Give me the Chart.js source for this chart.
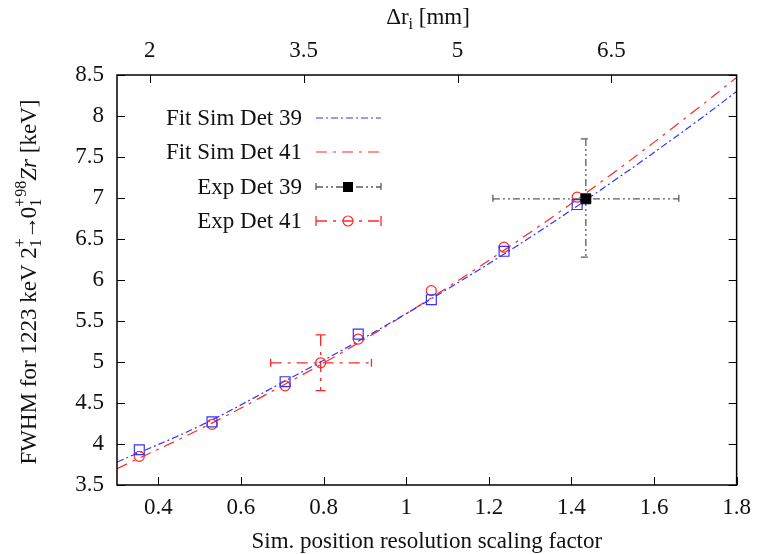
<!DOCTYPE html>
<html>
<head>
<meta charset="utf-8">
<script src="https://cdn.jsdelivr.net/npm/chart.js@4.4.0/dist/chart.umd.min.js"></script>
<style>body{margin:0;background:#fff}</style>
</head>
<body>
<canvas id="fwhm-chart" width="760" height="554"></canvas>
<script>
// simulated points (scaling factor vs FWHM)
const scaleFactors = [0.354, 0.530, 0.707, 0.884, 1.061, 1.237, 1.414];
const simDet39 = [3.93, 4.27, 4.76, 5.34, 5.76, 6.35, 6.92];
const simDet41 = [3.85, 4.24, 4.71, 5.28, 5.87, 6.40, 7.01];

// fit curves
const fitX = [0.3, 0.5, 0.7, 0.9, 1.1, 1.3, 1.5, 1.7, 1.8];
const fitDet39 = [3.78, 4.22, 4.75, 5.30, 5.89, 6.52, 7.20, 7.92, 8.30];
const fitDet41 = [3.70, 4.18, 4.71, 5.28, 5.91, 6.58, 7.30, 8.07, 8.47];

// experimental points: [Det 39, Det 41]
const expX = [1.435, 0.793];
const expY = [6.99, 4.99];
const expXLo = [1.21, 0.672];
const expXHi = [1.66, 0.916];
const expYLo = [6.28, 4.65];
const expYHi = [7.72, 5.33];

const xTicks = [0.4, 0.6, 0.8, 1, 1.2, 1.4, 1.6, 1.8];
const yTicks = [3.5, 4, 4.5, 5, 5.5, 6, 6.5, 7, 7.5, 8, 8.5];
const drTicks = [2, 3.5, 5, 6.5];

const FONT = '"Liberation Serif", "Times New Roman", serif';
const FS = 23;
const BLUE = 'rgb(50,50,255)';
const RED = 'rgb(255,40,40)';
const GREY = 'rgb(90,90,90)';
const DASH_BLUE = [7, 3, 2, 3];
const DASH_RED = [11, 6, 3, 6];
const DASH_GREY = [7, 3, 2, 3, 2, 3];

const pts = (xs, ys) => xs.map((x, i) => ({ x: x, y: ys[i] }));

function drawMarker(ctx, kind, x, y) {
  ctx.save();
  ctx.setLineDash([]);
  ctx.lineWidth = 1.2;
  if (kind === 'sq39') {
    ctx.fillStyle = '#000';
    ctx.fillRect(x - 5, y - 5, 10, 10);
  } else if (kind === 'circ41') {
    ctx.strokeStyle = RED;
    ctx.beginPath();
    ctx.arc(x, y, 5, 0, Math.PI * 2);
    ctx.stroke();
  }
  ctx.restore();
}

function errorBar(ctx, x1, y1, x2, y2, color, dash, cap, vertical) {
  ctx.save();
  ctx.strokeStyle = color;
  ctx.lineWidth = 1.3;
  ctx.setLineDash(dash);
  ctx.beginPath();
  ctx.moveTo(x1, y1);
  ctx.lineTo(x2, y2);
  ctx.stroke();
  ctx.beginPath();
  if (vertical) {
    ctx.moveTo(x1 - cap, y1); ctx.lineTo(x1 + cap, y1);
    ctx.moveTo(x2 - cap, y2); ctx.lineTo(x2 + cap, y2);
  } else {
    ctx.moveTo(x1, y1 - cap); ctx.lineTo(x1, y1 + cap);
    ctx.moveTo(x2, y2 - cap); ctx.lineTo(x2, y2 + cap);
  }
  ctx.stroke();
  ctx.restore();
}

const errorBarPlugin = {
  id: 'errorBars',
  beforeDatasetsDraw(chart) {
    const ctx = chart.ctx;
    const xs = chart.scales.x, ys = chart.scales.y;
    const styles = [[GREY, DASH_GREY], [RED, DASH_RED]];
    expX.forEach((xv, i) => {
      const px = xs.getPixelForValue(xv), py = ys.getPixelForValue(expY[i]);
      const [c, d] = styles[i];
      errorBar(ctx, xs.getPixelForValue(expXLo[i]), py, xs.getPixelForValue(expXHi[i]), py, c, d, 4, false);
      errorBar(ctx, px, ys.getPixelForValue(expYHi[i]), px, ys.getPixelForValue(expYLo[i]), c, d, 5, true);
    });
  }
};

function drawYTitle(ctx, cx, cy) {
  const big = FS + 'px ' + FONT;
  const small = '16px ' + FONT;
  const parts = [
    { t: 'FWHM for 1223 keV 2', f: big },
    { stack: ['+', '1'] },
    { t: '\u2192', f: big, pre: -2, post: -2 },
    { t: '0', f: big },
    { stack: ['+', '1'] },
    { t: '98', f: small, dy: -10 },
    { t: 'Zr', f: 'italic ' + FS + 'px ' + FONT },
    { t: ' [keV]', f: big }
  ];
  ctx.save();
  ctx.translate(cx, cy);
  ctx.rotate(-Math.PI / 2);
  ctx.fillStyle = '#111';
  ctx.textBaseline = 'alphabetic';
  ctx.textAlign = 'left';
  let total = 0;
  parts.forEach(p => {
    if (p.stack) {
      ctx.font = small;
      p.w = Math.max(ctx.measureText(p.stack[0]).width, ctx.measureText(p.stack[1]).width) + 1;
    } else {
      ctx.font = p.f;
      p.w = ctx.measureText(p.t).width + (p.pre || 0) + (p.post || 0);
    }
    total += p.w;
  });
  let x = -total / 2;
  const base = 8;
  parts.forEach(p => {
    if (p.stack) {
      ctx.font = small;
      ctx.fillText(p.stack[0], x, base - 11);
      ctx.fillText(p.stack[1], x, base + 5);
    } else {
      ctx.font = p.f;
      ctx.fillText(p.t, x + (p.pre || 0), base + (p.dy || 0));
    }
    x += p.w;
  });
  ctx.restore();
}

function drawLegend(ctx) {
  const rows = [118, 152, 187, 221];
  const labels = ['Fit Sim Det 39', 'Fit Sim Det 41', 'Exp Det 39', 'Exp Det 41'];
  const x0 = 316, x1 = 381, xm = 348;
  ctx.save();
  ctx.font = FS + 'px ' + FONT;
  ctx.fillStyle = '#111';
  ctx.textAlign = 'right';
  ctx.textBaseline = 'middle';
  labels.forEach((l, i) => ctx.fillText(l, 302, rows[i] + 1));

  const line = (y, c, d) => {
    ctx.save();
    ctx.strokeStyle = c; ctx.lineWidth = 1.2; ctx.setLineDash(d);
    ctx.beginPath(); ctx.moveTo(x0, y); ctx.lineTo(x1, y); ctx.stroke();
    ctx.restore();
  };
  line(rows[0], BLUE, DASH_BLUE);
  line(rows[1], RED, DASH_RED);
  errorBar(ctx, x0, rows[2], x1, rows[2], GREY, DASH_GREY, 4, false);
  drawMarker(ctx, 'sq39', xm, rows[2]);
  errorBar(ctx, x0, rows[3], x1, rows[3], RED, DASH_RED, 5, false);
  drawMarker(ctx, 'circ41', xm, rows[3]);
  ctx.restore();
}

const framePlugin = {
  id: 'frameAndTitles',
  afterDraw(chart) {
    const ctx = chart.ctx;
    const a = chart.chartArea;
    const xs = chart.scales.x, ys = chart.scales.y, x2 = chart.scales.x2;
    ctx.save();
    ctx.strokeStyle = '#000';
    ctx.lineWidth = 1;
    ctx.beginPath();
    yTicks.forEach(v => {
      const p = Math.round(ys.getPixelForValue(v)) + 0.5;
      ctx.moveTo(a.left, p); ctx.lineTo(a.left + 8, p);
      ctx.moveTo(a.right, p); ctx.lineTo(a.right - 8, p);
    });
    xTicks.forEach(v => {
      const p = Math.round(xs.getPixelForValue(v)) + 0.5;
      ctx.moveTo(p, a.bottom); ctx.lineTo(p, a.bottom - 8);
    });
    drTicks.forEach(v => {
      const p = Math.round(x2.getPixelForValue(v)) + 0.5;
      ctx.moveTo(p, a.top); ctx.lineTo(p, a.top + 8);
    });
    ctx.stroke();
    ctx.lineWidth = 1.5;
    ctx.strokeRect(a.left, a.top, a.right - a.left, a.bottom - a.top);

    // titles
    ctx.fillStyle = '#111';
    ctx.textBaseline = 'alphabetic';
    ctx.font = FS + 'px ' + FONT;
    ctx.textAlign = 'center';
    ctx.fillText('Sim. position resolution scaling factor', (a.left + a.right) / 2, 548);

    ctx.textAlign = 'left';
    const w1 = ctx.measureText('\u0394r').width;
    const w3 = ctx.measureText(' [mm]').width;
    ctx.font = '16px ' + FONT;
    const w2 = ctx.measureText('i').width;
    let tx = 428 - (w1 + w2 + w3) / 2;
    ctx.font = FS + 'px ' + FONT;
    ctx.fillText('\u0394r', tx, 24);
    ctx.font = '16px ' + FONT;
    ctx.fillText('i', tx + w1, 29);
    ctx.font = FS + 'px ' + FONT;
    ctx.fillText(' [mm]', tx + w1 + w2, 24);
    ctx.restore();

    drawYTitle(ctx, 28, 282);
    drawLegend(ctx);
  }
};

const ctx = document.getElementById('fwhm-chart').getContext('2d');

new Chart(ctx, {
  type: 'scatter',
  data: {
    datasets: [
      {
        label: 'Exp Det 39',
        data: pts([expX[0]], [expY[0]]),
        pointStyle: 'rect', pointRadius: 7, pointBackgroundColor: '#000', pointBorderColor: '#000',
        order: 0
      },
      {
        label: 'Exp Det 41',
        data: pts([expX[1]], [expY[1]]),
        pointStyle: 'circle', pointRadius: 5, pointBackgroundColor: 'rgba(0,0,0,0)', pointBorderColor: RED,
        pointBorderWidth: 1.2, order: 1
      },
      {
        label: 'Sim Det 39',
        data: pts(scaleFactors, simDet39),
        pointStyle: 'rect', pointRadius: 7, pointBackgroundColor: 'rgba(0,0,0,0)', pointBorderColor: BLUE,
        pointBorderWidth: 1.2, order: 2
      },
      {
        label: 'Sim Det 41',
        data: pts(scaleFactors, simDet41),
        pointStyle: 'circle', pointRadius: 5, pointBackgroundColor: 'rgba(0,0,0,0)', pointBorderColor: RED,
        pointBorderWidth: 1.2, order: 3
      },
      {
        label: 'Fit Sim Det 39',
        data: pts(fitX, fitDet39),
        showLine: true, pointRadius: 0, borderColor: BLUE, borderWidth: 1.2,
        borderDash: DASH_BLUE, tension: 0.4, order: 4
      },
      {
        label: 'Fit Sim Det 41',
        data: pts(fitX, fitDet41),
        showLine: true, pointRadius: 0, borderColor: RED, borderWidth: 1.2,
        borderDash: DASH_RED, tension: 0.4, order: 5
      }
    ]
  },
  options: {
    responsive: false,
    animation: false,
    layout: { padding: { left: 0, right: 19, top: 0, bottom: 0 } },
    plugins: {
      legend: { display: false },
      tooltip: { enabled: false }
    },
    scales: {
      x: {
        type: 'linear', position: 'bottom', min: 0.3, max: 1.8,
        afterBuildTicks: s => { s.ticks = xTicks.map(v => ({ value: v })); },
        afterFit: s => { s.height = 69; },
        grid: { display: false, drawTicks: false },
        border: { display: false },
        ticks: { padding: 9, color: '#111', font: { family: FONT, size: FS }, callback: v => String(v) }
      },
      x2: {
        type: 'linear', position: 'top', min: 1.68, max: 7.72,
        afterBuildTicks: s => { s.ticks = drTicks.map(v => ({ value: v })); },
        afterFit: s => { s.height = 75; },
        grid: { display: false, drawTicks: false },
        border: { display: false },
        ticks: { padding: 10, color: '#111', font: { family: FONT, size: FS }, callback: v => String(v) }
      },
      y: {
        type: 'linear', min: 3.5, max: 8.5,
        afterBuildTicks: s => { s.ticks = yTicks.map(v => ({ value: v })); },
        afterFit: s => { s.width = 117; },
        grid: { display: false, drawTicks: false },
        border: { display: false },
        ticks: { padding: 13, color: '#111', font: { family: FONT, size: FS }, callback: v => String(v) }
      }
    }
  },
  plugins: [errorBarPlugin, framePlugin]
});
</script>
</body>
</html>
